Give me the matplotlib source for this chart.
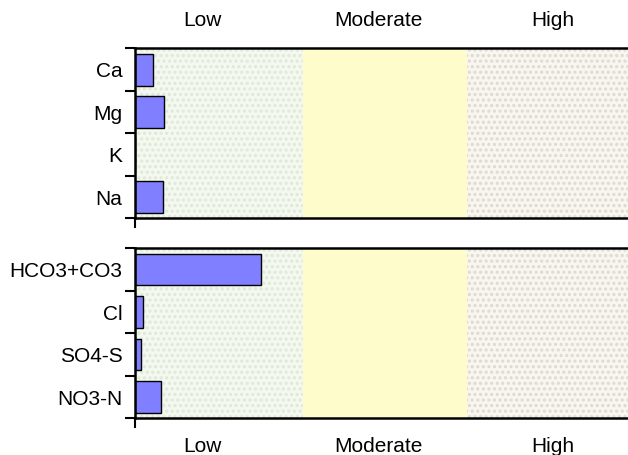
import numpy as np
import matplotlib
matplotlib.use('Agg')
import matplotlib.pyplot as plt
import matplotlib.transforms as mtransforms

plt.rcParams['font.family'] = ['Liberation Sans', 'DejaVu Sans']
plt.rcParams['hatch.linewidth'] = 1.5

# данные
cations = ['Ca', 'Mg', 'K', 'Na']
cation_values = [0.108, 0.178, 0.0, 0.169]
anions = ['HCO3+CO3', 'Cl', 'SO4-S', 'NO3-N']
anion_values = [0.765, 0.047, 0.037, 0.158]

zone_names = ['Low', 'Moderate', 'High']
zone_edges = [0.0, 1.02, 2.02, 3.0]
zone_label_x = [0.41, 1.48, 2.54]

bar_color = '#7f7fff'
zone_faces = ['#f3f9ee', '#fffccc', '#f9f6f0']
zone_hatch = ['#e0e8da', None, '#ded9d2']

fig = plt.figure(figsize=(6.28, 4.55), dpi=100)
ax_top = fig.add_axes([0.215, 0.5202, 0.785, 0.3736])
ax_bot = fig.add_axes([0.215, 0.0807, 0.785, 0.3736])


def draw_panel(ax, names, values):
    # фоновые зоны
    for i in range(3):
        ax.axvspan(zone_edges[i], zone_edges[i + 1], facecolor=zone_faces[i],
                   edgecolor='none', zorder=0)
        if zone_hatch[i]:
            ax.axvspan(zone_edges[i], zone_edges[i + 1], facecolor='none',
                       edgecolor=zone_hatch[i], hatch='...', linewidth=0, zorder=0.5)
    y = np.arange(len(names))
    ax.barh(y, values, height=0.75, color=bar_color, edgecolor='black',
            linewidth=1.0, zorder=2)
    ax.set_xlim(0, 3)
    ax.set_ylim(len(names) - 0.5, -0.5)
    ax.set_yticks(y)
    ax.set_yticklabels(names, fontsize=15)
    ax.tick_params(axis='y', which='major', length=0, pad=9)
    ax.set_yticks(np.arange(len(names) + 1) - 0.5, minor=True)
    ax.tick_params(axis='y', which='minor', length=7, width=1.5, direction='out')
    ax.set_xticks([0])
    ax.set_xticklabels([])
    ax.tick_params(axis='x', length=7, width=1.5, direction='out')
    ax.spines['right'].set_visible(False)
    for s in ['top', 'bottom', 'left']:
        ax.spines[s].set_linewidth(1.8)


draw_panel(ax_top, cations, cation_values)
draw_panel(ax_bot, anions, anion_values)

# подписи зон сверху и снизу
tr_top = mtransforms.blended_transform_factory(ax_top.transData, fig.transFigure)
tr_bot = mtransforms.blended_transform_factory(ax_bot.transData, fig.transFigure)
for name, x in zip(zone_names, zone_label_x):
    ax_top.text(x, 1 - 21 / 455, name, transform=tr_top, ha='center', va='center',
                fontsize=15, clip_on=False)
    ax_bot.text(x, 1 - 446 / 455, name, transform=tr_bot, ha='center', va='center',
                fontsize=15, clip_on=False)

fig.savefig('out.png', dpi=100)
